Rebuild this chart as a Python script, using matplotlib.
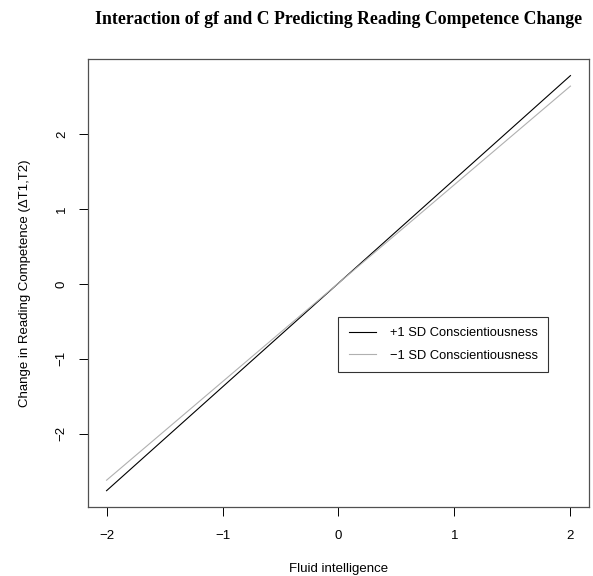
import matplotlib
matplotlib.use("Agg")
import matplotlib.pyplot as plt

# Data
x_vals = [-2, 2]
high_c = [-2.76, 2.78]   # +1 SD Conscientiousness
low_c = [-2.62, 2.64]    # -1 SD Conscientiousness
x_ticks = [-2, -1, 0, 1, 2]
y_ticks = [-2, -1, 0, 1, 2]
series_labels = ["+1 SD Conscientiousness", "\u22121 SD Conscientiousness"]

plt.rcParams['font.family'] = ['Liberation Sans', 'DejaVu Sans']
plt.rcParams['axes.unicode_minus'] = True

W, H = 593, 576
fig = plt.figure(figsize=(W / 100, H / 100), dpi=100)
L, R, T, B = 88, 589, 59, 507.3
ax = fig.add_axes([L / W, 1 - B / H, (R - L) / W, (B - T) / H])

ax.plot(x_vals, high_c, color='black', lw=0.8, label=series_labels[0])
ax.plot(x_vals, low_c, color='#b0b0b0', lw=0.8, label=series_labels[1])

xr = max(x_vals) - min(x_vals)
ax.set_xlim(min(x_vals) - 0.04 * xr, max(x_vals) + 0.04 * xr)
ally = high_c + low_c
yr = max(ally) - min(ally)
ax.set_ylim(min(ally) - 0.04 * yr, max(ally) + 0.04 * yr)

ax.set_xticks(x_ticks)
ax.set_yticks(y_ticks)
ax.set_xticklabels([str(v).replace('-', '\u2212') for v in x_ticks], fontsize=9.5)
ax.set_yticklabels([str(v).replace('-', '\u2212') for v in y_ticks], fontsize=9.5,
                   rotation=90, va='center')
ax.tick_params(direction='out', length=6.5, width=0.7, color='black')
ax.tick_params(axis='x', pad=10)
ax.tick_params(axis='y', pad=8)
for s in ax.spines.values():
    s.set_color('#505050')
    s.set_linewidth(0.9)

ax.set_xlabel("Fluid intelligence", fontsize=9.5, labelpad=15)
ax.set_ylabel("Change in Reading Competence (\u0394T1,T2)", fontsize=9.5, labelpad=18)

fig.text((L + R) / 2 / W, 1 - 20 / H,
         "Interaction of gf and C Predicting Reading Competence Change",
         ha='center', va='center', fontsize=12.8, fontweight='bold',
         family='Liberation Serif')

leg = ax.legend(loc='upper left',
                bbox_to_anchor=((338.3 - L) / (R - L), 1 - (317 - T) / (B - T)),
                borderaxespad=0, fontsize=9.3, frameon=True, fancybox=False,
                handlelength=2.1, handletextpad=1.08, labelspacing=0.82,
                borderpad=0.8)
leg.get_frame().set_edgecolor('black')
leg.get_frame().set_linewidth(0.8)

fig.savefig("out.png", dpi=100)
